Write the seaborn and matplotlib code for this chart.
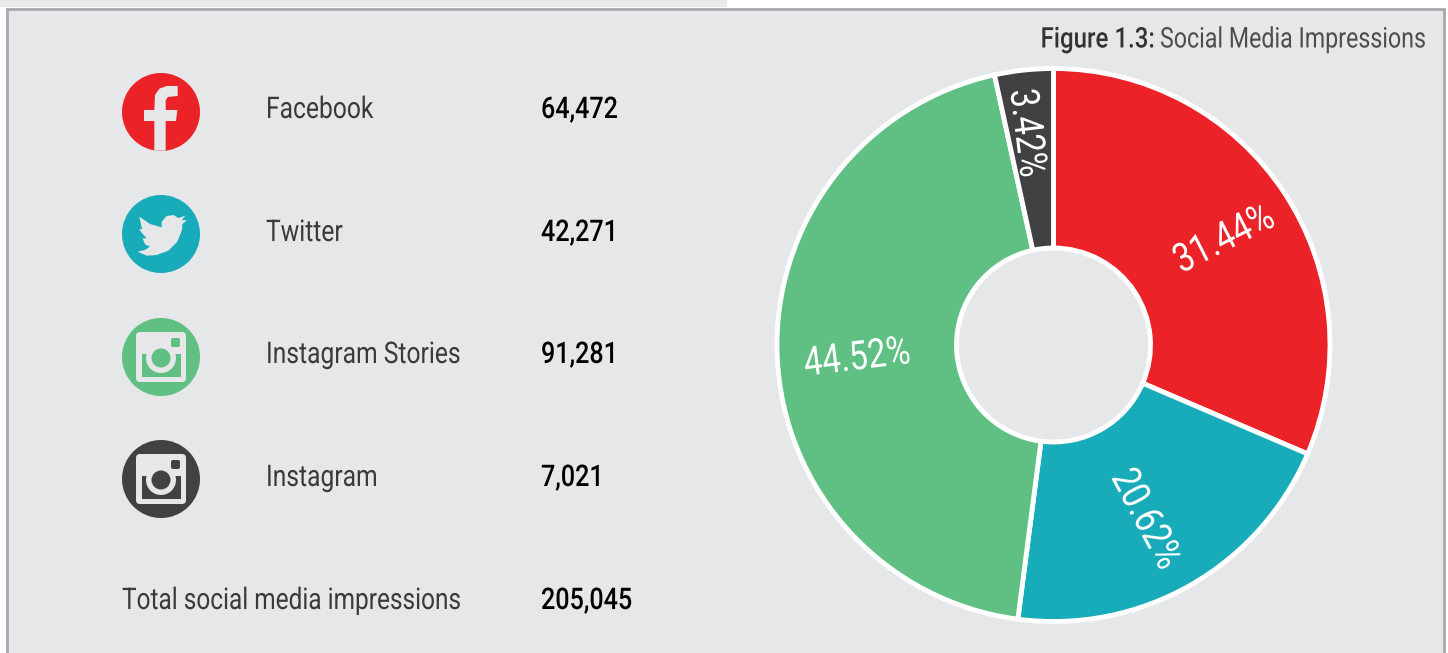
import matplotlib
matplotlib.use("Agg")
import matplotlib.pyplot as plt
from matplotlib.patches import Circle, Rectangle, FancyBboxPatch, Polygon
from matplotlib.patheffects import AbstractPathEffect
from matplotlib.text import Text
from matplotlib.transforms import Affine2D
import seaborn as sns

platforms = ["Facebook", "Twitter", "Instagram Stories", "Instagram"]
impressions = [64472, 42271, 91281, 7021]
impression_labels = ["64,472", "42,271", "91,281", "7,021"]
percent_labels = ["31.44%", "20.62%", "44.52%", "3.42%"]
total_label = "Total social media impressions"
total_value = "205,045"
title_bold = "Figure 1.3:"
title_rest = "Social Media Impressions"
palette = ["#EC2229", "#18ABB9", "#60BF82", "#414042"]

sns.set_theme(style="white")
plt.rcParams["font.family"] = ["Roboto", "DejaVu Sans"]

PANEL = "#E6E7E9"
W, H = 1448, 653
fig = plt.figure(figsize=(W / 100, H / 100), dpi=100, facecolor="white")
bg = fig.add_axes([0, 0, 1, 1])
bg.set_xlim(0, W); bg.set_ylim(H, 0); bg.axis("off")
bg.add_patch(Rectangle((0, 0), 727, 7, fc="#E8EBE8", ec="none"))
bg.add_patch(Rectangle((6.5, 8.5), 1437, 660, fc=PANEL, ec="#A7A9AC", lw=2))


class Condense(AbstractPathEffect):
    """Narrow a text's glyphs around its anchor, as Roboto Condensed would look."""

    def __init__(self, sx, x, y, angle=0):
        super().__init__()
        self.t = (Affine2D().translate(-x, -(H - y)).rotate_deg(-angle).scale(sx, 1)
                  .rotate_deg(angle).translate(x, H - y))

    def draw_path(self, renderer, gc, tpath, affine, rgbFace=None):
        renderer.draw_path(gc, tpath, affine + self.t, rgbFace)


class CondensedText(Text):
    """A text whose reported extent is the narrowed one it really paints."""

    def get_window_extent(self, renderer=None, dpi=None):
        box = super().get_window_extent(renderer, dpi)
        return box.transformed(self.condense.t)


def label(x, y, s, size, color, sx, ha="left", weight="normal", angle=0):
    t = CondensedText(x / W, 1 - y / H, s, fontsize=size, color=color, ha=ha, va="center",
                      fontweight=weight, rotation=angle, rotation_mode="anchor", zorder=10,
                      transform=fig.transFigure)
    t.condense = Condense(sx, x, y, angle)
    t.set_path_effects([t.condense])
    fig.add_artist(t)
    return t


fs, sx = 21.5, 0.825
rows = [110, 233, 355, 478]
for name, val, y in zip(platforms, impression_labels, rows):
    label(266, y, name, fs, "#3A3A3C", sx)
    label(541, y, val, fs, "black", sx * 1.02, weight=500)
label(122, 601, total_label, fs, "#3A3A3C", sx * 0.991)
label(541, 601, total_value, fs, "black", sx * 1.02, weight=500)

label(1426, 40, title_rest, 20.5, "#4D4D4F", 0.815, ha="right")
label(1155, 40, title_bold, 20.5, "#333335", 0.845, ha="right", weight=500)


def zmap(pts, ox, oy):
    return [(ox + x / 3, oy + y / 3) for x, y in pts]


F_SHAPE = [(163, 272), (197, 272), (197, 183), (228, 183), (232, 150), (197, 150), (197, 122),
           (203, 111), (233, 108), (233, 78), (200, 78), (178, 86), (165, 105), (163, 150),
           (132, 150), (132, 183), (163, 183)]
BIRD = [(256, 467), (245, 480), (261, 481), (247, 492), (246, 510), (232, 545), (205, 572), (170, 585),
        (140, 587), (113, 575), (135, 570), (150, 560), (135, 553), (128, 535), (140, 535), (125, 518),
        (118, 508), (126, 507), (118, 470), (150, 492), (185, 502), (185, 485), (200, 468), (220, 465),
        (235, 474)]

icon_y = [112, 234, 357, 479]
for c, y in zip(palette, icon_y):
    bg.add_patch(Circle((161, y), 39, fc=c, ec="none"))
bg.add_patch(Polygon(zmap(F_SHAPE, 100, 60), fc=PANEL, ec="none"))
bg.add_patch(Polygon(zmap(BIRD, 100, 60), fc=PANEL, ec="none"))
for c, y in zip(palette[2:], icon_y[2:]):
    bg.add_patch(FancyBboxPatch((136, y - 25), 50, 50, boxstyle="round,pad=0,rounding_size=4", fc=PANEL, ec="none"))
    bg.add_patch(Rectangle((142, y - 3), 39, 23, fc=c, ec="none"))
    bg.add_patch(Circle((161, y + 1), 15, fc=PANEL, ec="none"))
    bg.add_patch(Circle((161, y + 1), 9.5, fc=c, ec="none"))
    bg.add_patch(FancyBboxPatch((171, y - 19), 9, 9, boxstyle="round,pad=0,rounding_size=2", fc=c, ec="none"))

# Donut: centre (1053.5, 345), outer radius 276.5 px
cx, cy, R = 1053.5, 345, 276.5
ax = fig.add_axes([(cx - R) / W, 1 - (cy + R) / H, 2 * R / W, 2 * R / H])
ax.pie(impressions, colors=palette, startangle=90, counterclock=False, radius=1,
       wedgeprops=dict(width=1 - 97 / R, edgecolor="white", linewidth=3.5))
ax.set_xlim(-1, 1); ax.set_ylim(-1, 1)
ax.patch.set_alpha(0)

label_pos = [(1224, 239, 27), (1146, 519, -62), (857, 358, 7), (1027, 133, -83)]
for txt, (x, y, r) in zip(percent_labels, label_pos):
    label(x, y, txt, 29, "white", 0.82, ha="center", angle=r)

fig.savefig("out.png", dpi=100, facecolor="white")
